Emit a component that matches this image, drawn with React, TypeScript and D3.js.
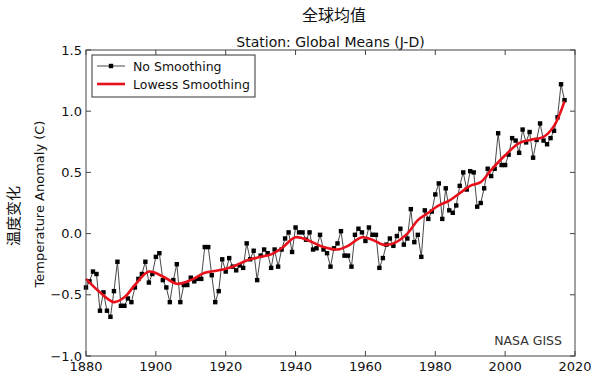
import React from "react";
import * as d3 from "d3";

const title = "全球均值";
const subtitle = "Station: Global Means (J-D)";
const yLabelCn = "温度变化";
const yLabel = "Temperature Anomaly (C)";
const credit = "NASA GISS";
const seriesNames = ["No Smoothing", "Lowess Smoothing"];

const startYear = 1880;
const anomalies = [
  -0.44, -0.39, -0.31, -0.33, -0.63, -0.48, -0.63, -0.68, -0.47, -0.23,
  -0.59, -0.59, -0.53, -0.56, -0.44, -0.37, -0.33, -0.23, -0.40, -0.33,
  -0.19, -0.16, -0.38, -0.44, -0.56, -0.38, -0.25, -0.56, -0.42, -0.42,
  -0.36, -0.39, -0.37, -0.37, -0.11, -0.11, -0.34, -0.56, -0.47, -0.21,
  -0.31, -0.20, -0.27, -0.30, -0.26, -0.28, -0.08, -0.21, -0.14, -0.38,
  -0.18, -0.13, -0.16, -0.28, -0.13, -0.27, -0.13, -0.04, 0.01, -0.15,
  0.05, 0.01, 0.01, -0.05, 0.01, -0.13, -0.12, -0.01, -0.13, -0.16,
  -0.27, -0.12, -0.08, 0.02, -0.18, -0.18, -0.27, -0.01, 0.04, 0.01,
  -0.06, 0.05, -0.01, -0.01, -0.28, -0.20, -0.09, -0.04, -0.10, -0.02,
  0.04, -0.09, -0.04, 0.20, -0.07, -0.01, -0.19, 0.19, 0.12, 0.18,
  0.32, 0.41, 0.12, 0.37, 0.19, 0.17, 0.23, 0.39, 0.50, 0.36,
  0.51, 0.50, 0.22, 0.25, 0.37, 0.53, 0.47, 0.53, 0.82, 0.56,
  0.56, 0.645, 0.78, 0.76, 0.66, 0.85, 0.745, 0.83, 0.62, 0.765,
  0.90, 0.76, 0.73, 0.78, 0.84, 0.95, 1.22, 1.09,
];
const years = anomalies.map((_, i) => startYear + i);

const smoothYears = [1880, 1884, 1888, 1891, 1894, 1898, 1902, 1906, 1910, 1914, 1918, 1922, 1926, 1930, 1933, 1936, 1940, 1944, 1948, 1952, 1955, 1959, 1962, 1965, 1968, 1972, 1975, 1978, 1981, 1984, 1987, 1990, 1993, 1996, 2000, 2004, 2008, 2011, 2014, 2017];
const smoothValues = [-0.37, -0.48, -0.56, -0.52, -0.42, -0.31, -0.35, -0.41, -0.38, -0.32, -0.30, -0.27, -0.22, -0.19, -0.17, -0.12, -0.03, -0.06, -0.11, -0.13, -0.10, -0.03, -0.05, -0.09, -0.08, 0.00, 0.11, 0.17, 0.23, 0.27, 0.33, 0.39, 0.42, 0.52, 0.64, 0.74, 0.77, 0.79, 0.88, 1.08];

const xTicks = [1880, 1900, 1920, 1940, 1960, 1980, 2000, 2020];
const yTicks = [-1.0, -0.5, 0.0, 0.5, 1.0, 1.5];

const W = 600, H = 381;
const left = 86, right = 575, top = 50, bottom = 356;
const FONT = "'DejaVu Sans', Verdana, sans-serif";
const CJK = "'Noto Sans CJK SC', 'DejaVu Sans', sans-serif";

export default function App() {
  const x = d3.scaleLinear().domain([1880, 2020]).range([left, right]);
  const y = d3.scaleLinear().domain([-1.0, 1.5]).range([bottom, top]);
  const raw = years.map((yr, i) => [yr, anomalies[i]] as [number, number]);
  const smooth = smoothYears.map((yr, i) => [yr, smoothValues[i]] as [number, number]);
  const rawLine = d3.line<[number, number]>().x((d) => x(d[0])).y((d) => y(d[1]))(raw) || "";
  const smoothLine = d3
    .line<[number, number]>()
    .x((d) => x(d[0]))
    .y((d) => y(d[1]))
    .curve(d3.curveCatmullRom.alpha(0.5))(smooth) || "";
  const fmt = (v: number) => (v < 0 ? "\u2212" + Math.abs(v).toFixed(1) : v.toFixed(1));
  const tick = 5;
  const axisColor = "#444";
  const ms = 4.4;
  const lg = { x0: 92, y0: 55, x1: 255, y1: 97 };
  return (
    <svg width={W} height={H} style={{ position: "absolute", left: 0, top: 0, background: "#fff" }}>
      <rect x={0} y={0} width={W} height={H} fill="#fff" />
      <text x={334} y={21} textAnchor="middle" fontFamily={CJK} fontSize={16} fill="#111">{title}</text>
      <text x={330.5} y={47} textAnchor="middle" fontFamily={FONT} fontSize={14} fill="#111">{subtitle}</text>
      <text transform={`translate(19,216) rotate(-90)`} textAnchor="middle" fontFamily={CJK} fontSize={15} fill="#111">{yLabelCn}</text>
      <text transform={`translate(44,204) rotate(-90)`} textAnchor="middle" fontFamily={FONT} fontSize={13} fill="#111">{yLabel}</text>

      {/* data */}
      <path d={rawLine} fill="none" stroke="#333" strokeWidth={0.9} />
      {raw.map((d, i) => (
        <rect key={i} x={x(d[0]) - ms / 2} y={y(d[1]) - ms / 2} width={ms} height={ms} fill="#000" />
      ))}
      <path d={smoothLine} fill="none" stroke="#e8101a" strokeWidth={2.6} strokeLinejoin="round" />

      {/* frame */}
      <rect x={left} y={top} width={right - left} height={bottom - top} fill="none" stroke={axisColor} strokeWidth={1} />
      {xTicks.map((t) => (
        <g key={"x" + t}>
          <line x1={x(t)} x2={x(t)} y1={bottom} y2={bottom - tick} stroke={axisColor} />
          <line x1={x(t)} x2={x(t)} y1={top} y2={top + tick} stroke={axisColor} />
          <text x={x(t)} y={bottom + 15} textAnchor="middle" fontFamily={FONT} fontSize={13} fill="#111">{t}</text>
        </g>
      ))}
      {yTicks.map((t) => (
        <g key={"y" + t}>
          <line x1={left} x2={left + tick} y1={y(t)} y2={y(t)} stroke={axisColor} />
          <line x1={right} x2={right - tick} y1={y(t)} y2={y(t)} stroke={axisColor} />
          <text x={left - 4} y={y(t) + 4.5} textAnchor="end" fontFamily={FONT} fontSize={13} fill="#111">{fmt(t)}</text>
        </g>
      ))}

      <text x={562} y={345} textAnchor="end" fontFamily={FONT} fontSize={12.5} fill="#333">{credit}</text>

      {/* legend */}
      <rect x={lg.x0} y={lg.y0} width={lg.x1 - lg.x0} height={lg.y1 - lg.y0} fill="#fff" stroke="#333" strokeWidth={1} />
      <line x1={97} x2={125} y1={66} y2={66} stroke="#333" strokeWidth={0.9} />
      <rect x={111 - ms / 2} y={66 - ms / 2} width={ms} height={ms} fill="#000" />
      <text x={133} y={70.5} fontFamily={FONT} fontSize={12.5} fill="#111">{seriesNames[0]}</text>
      <line x1={97} x2={125} y1={84} y2={84} stroke="#e8101a" strokeWidth={2.6} />
      <text x={133} y={88.5} fontFamily={FONT} fontSize={12.5} fill="#111">{seriesNames[1]}</text>
    </svg>
  );
}
